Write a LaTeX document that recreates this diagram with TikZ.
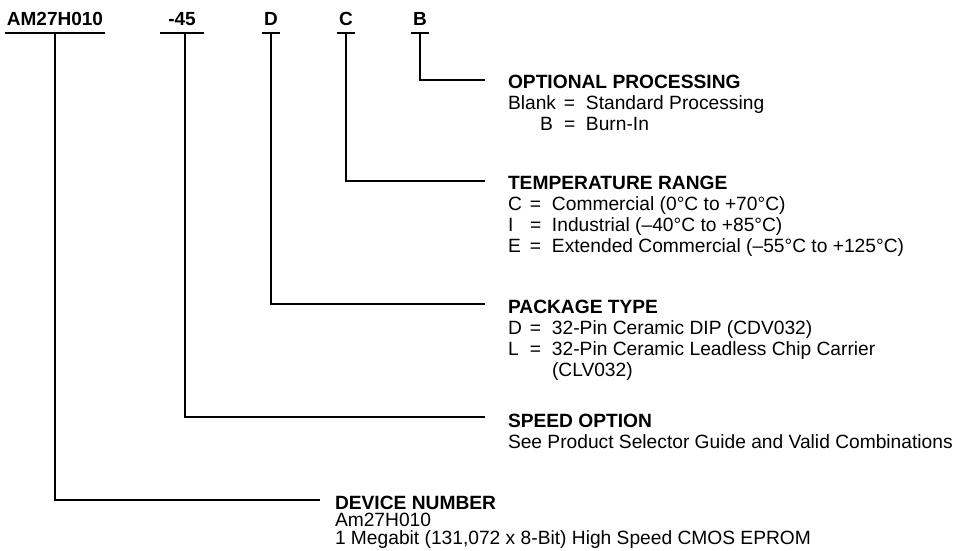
\documentclass[tikz,border=0pt]{standalone}
\usepackage{fontspec}
\setmainfont{Liberation Sans}
\usepackage{tikz}
\usetikzlibrary{positioning}
\newcommand{\opt}[3][22pt]{\makebox[#1][l]{#2}\makebox[22pt][l]{=}#3}

\begin{document}
\begin{tikzpicture}[x=1pt,y=-1pt,line width=2pt,
	every node/.style={font=\fontsize{19.2}{21}\selectfont},
	code/.style={font=\fontsize{19}{21}\selectfont\bfseries,anchor=base,inner xsep=1pt,inner ysep=7pt},
	block/.style={anchor=north west,align=left,inner sep=0pt}]
	\path[use as bounding box,fill=white] (0,0) rectangle (956,550);

	\node[code] (dev) at (55,25) {AM27H010};
	\node[code,inner xsep=7pt] (speed) at (182,25) {-45};
	\node[code] (pkg) at (271,25) {D};
	\node[code] (temp) at (346,25) {C};
	\node[code] (proc) at (420,25) {B};

	\node[block] (procInfo) at (507,74) {\textbf{OPTIONAL PROCESSING}\\\opt[56pt]{Blank}{Standard Processing}\\\hspace*{32pt}\opt[24pt]{B}{Burn-In}};
	\node[block] (tempInfo) at (507,175) {\textbf{TEMPERATURE RANGE}\\\opt{C}{Commercial (0°C to +70°C)}\\\opt{I}{Industrial (–40°C to +85°C)}\\\opt{E}{Extended Commercial (–55°C to +125°C)}};
	\node[block] (pkgInfo) at (507,299) {\textbf{PACKAGE TYPE}\\\opt{D}{32-Pin Ceramic DIP (CDV032)}\\\opt{L}{32-Pin Ceramic Leadless Chip Carrier}\\\hspace*{44pt}(CLV032)};
	\node[block] (speedInfo) at (507,413) {\textbf{SPEED OPTION}\\See Product Selector Guide and Valid Combinations};
	\node[block,font=\fontsize{19.2}{17.5}\selectfont] (devInfo) at (334,495) {\textbf{DEVICE NUMBER}\\Am27H010\\1 Megabit (131,072 x 8-Bit) High Speed CMOS EPROM};

	\foreach \n in {dev,speed,pkg,temp,proc}
		\draw (\n.south west) -- (\n.south east);
	\draw (proc.south) |- ([shift={(-22,6)}]procInfo.north west);
	\draw (temp.south) |- ([shift={(-22,6)}]tempInfo.north west);
	\draw (pkg.south) |- ([shift={(-22,5)}]pkgInfo.north west);
	\draw ([xshift=3pt]speed.south) |- ([shift={(-22,4)}]speedInfo.north west);
	\draw (dev.south) |- ([shift={(-14,5)}]devInfo.north west);
\end{tikzpicture}
\end{document}
